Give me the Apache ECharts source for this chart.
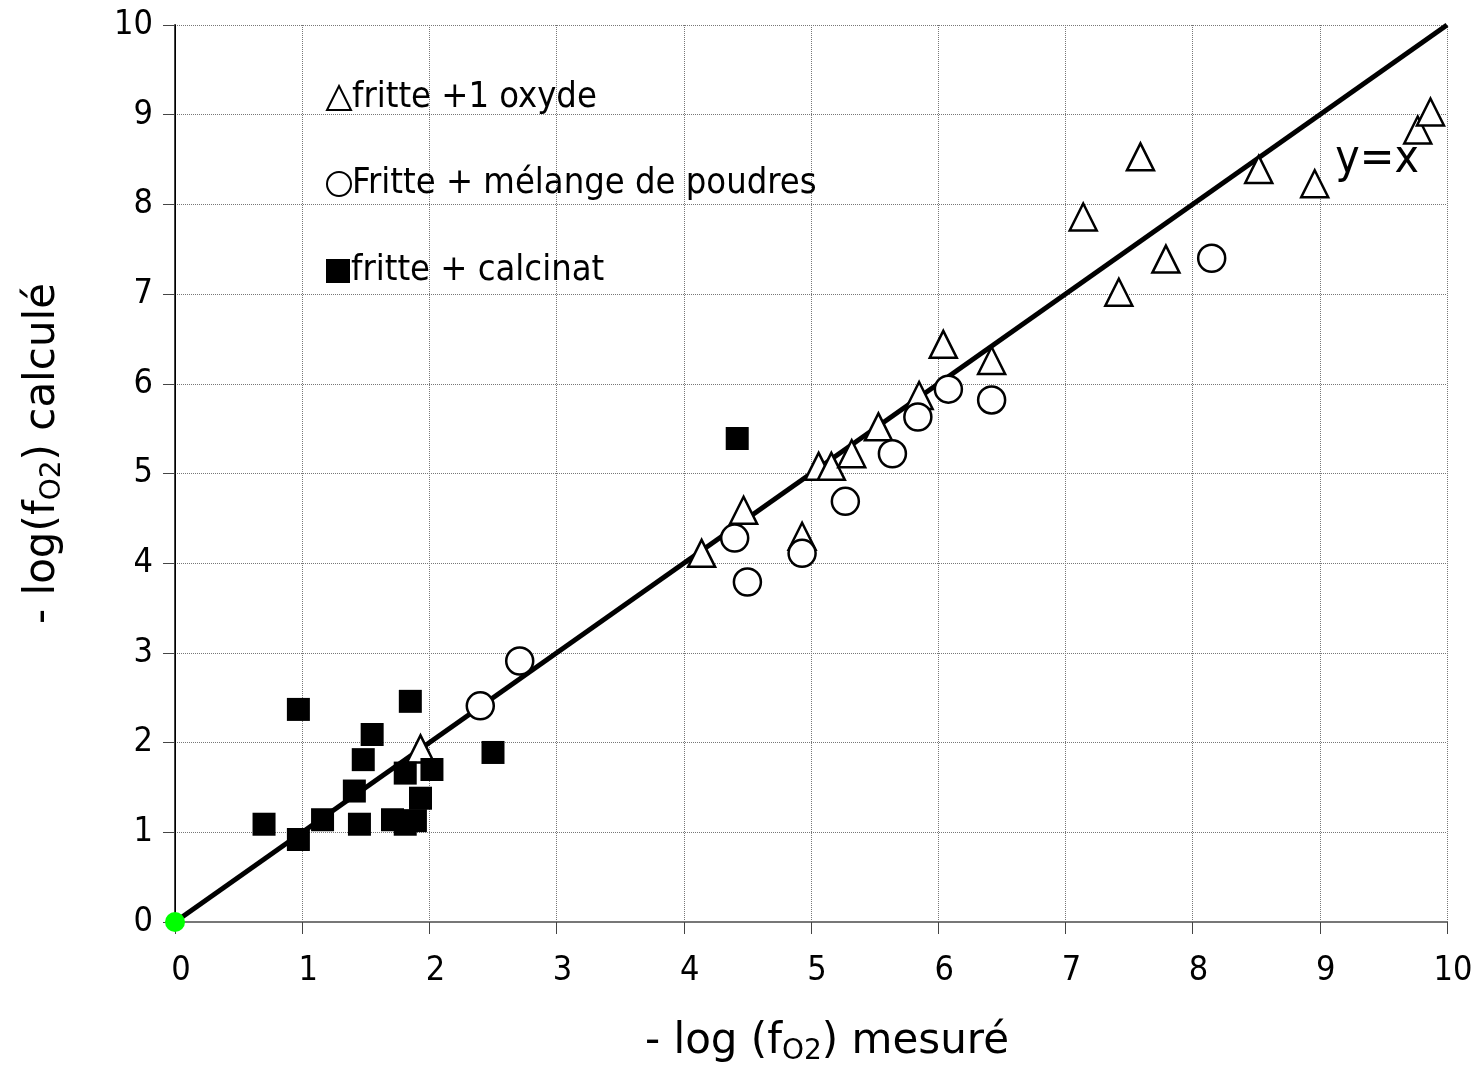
<!DOCTYPE html>
<html>
<head>
<meta charset="utf-8">
<script src="https://cdn.jsdelivr.net/npm/echarts@6/dist/echarts.min.js"></script>
<style>
html,body{margin:0;padding:0;background:#fff;}
#chart{width:1479px;height:1071px;}
</style>
</head>
<body>
<div id="chart"></div>
<script>
// ---- data ----
var seriesNames = ['fritte +1 oxyde', 'Fritte + mélange de poudres', 'fritte + calcinat'];

var oxydeX = [1.93, 4.14, 4.47, 4.93, 5.06, 5.16, 5.32, 5.53, 5.85, 6.04, 6.42, 7.14, 7.42, 7.59, 7.79, 8.52, 8.96, 9.77, 9.87];
var oxydeY = [1.93, 4.11, 4.59, 4.30, 5.08, 5.08, 5.22, 5.52, 5.87, 6.44, 6.26, 7.86, 7.02, 8.53, 7.39, 8.39, 8.23, 8.83, 9.03];

var poudreX = [2.40, 2.71, 4.40, 4.50, 4.93, 5.27, 5.64, 5.84, 6.08, 6.42, 8.15];
var poudreY = [2.41, 2.91, 4.28, 3.79, 4.11, 4.69, 5.22, 5.63, 5.94, 5.82, 7.40];

var calcinatX = [0.70, 0.97, 0.97, 1.16, 1.41, 1.45, 1.48, 1.55, 1.71, 1.81, 1.81, 1.89, 1.85, 1.93, 2.02, 2.50, 4.42];
var calcinatY = [1.09, 0.92, 2.37, 1.14, 1.46, 1.09, 1.81, 2.09, 1.14, 1.66, 1.09, 1.13, 2.46, 1.38, 1.70, 1.89, 5.39];

var identityX = [0, 10];
var identityY = [0, 10];
var originX = [0];
var originY = [0];
var lineLabelPos = [9.45, 8.5];

var axisMin = 0, axisMax = 10, axisInterval = 1;

function pairs(xs, ys) { return xs.map(function (x, i) { return [x, ys[i]]; }); }

var FONT = '"DejaVu Sans Condensed", "DejaVu Sans", sans-serif';
var FONT_W = '"DejaVu Sans", sans-serif';

var chart = echarts.init(document.getElementById('chart'), null, {renderer: 'canvas'});

function legendRow(name, top) {
  return {
    data: [name],
    left: 321,
    top: top,
    orient: 'horizontal',
    itemWidth: 24,
    itemHeight: 24,
    itemGap: 0,
    selectedMode: false,
    itemStyle: {opacity: 1},
    textStyle: {fontFamily: FONT, fontSize: 36, color: '#000', padding: [0, 0, 0, -4]}
  };
}

var option = {
  backgroundColor: '#fff',
  animation: false,
  grid: {left: 175, right: 32, top: 25, bottom: 146, containLabel: false},
  legend: [
    legendRow(seriesNames[0], 75),
    legendRow(seriesNames[1], 161),
    legendRow(seriesNames[2], 248)
  ],
  xAxis: [{
    type: 'value', min: axisMin, max: axisMax, interval: axisInterval,
    name: '- log (f{sub|O2}) mesuré',
    nameLocation: 'middle', nameGap: 96,
    nameTextStyle: {fontFamily: FONT_W, fontSize: 42, color: '#000', padding: [0, 0, 0, 32],
      rich: {sub: {fontFamily: FONT_W, fontSize: 28, color: '#000', padding: [20, 0, 0, 0]}}},
    axisLine: {show: true, onZero: false, lineStyle: {color: '#444', width: 2}},
    axisTick: {show: true, length: 12, lineStyle: {color: '#444', width: 1}},
    axisLabel: {fontFamily: FONT, fontSize: 34, color: '#000', margin: 32, padding: [0, 0, 0, 12]},
    splitLine: {show: true, lineStyle: {type: 'dotted', color: '#777', width: 1}}
  }, {
    type: 'value', min: axisMin, max: axisMax, position: 'top',
    axisLine: {show: true, lineStyle: {color: '#777', width: 2}},
    axisTick: {show: false}, axisLabel: {show: false}, splitLine: {show: false}
  }],
  yAxis: [{
    type: 'value', min: axisMin, max: axisMax, interval: axisInterval,
    name: '- log(f{sub|O2}) calculé',
    nameLocation: 'middle', nameGap: 108, nameRotate: 90,
    nameTextStyle: {fontFamily: FONT_W, fontSize: 42, color: '#000', padding: [0, 0, 0, 40],
      rich: {sub: {fontFamily: FONT_W, fontSize: 28, color: '#000', padding: [20, 0, 0, 0]}}},
    axisLine: {show: true, onZero: false, lineStyle: {color: '#444', width: 2}},
    axisTick: {show: true, length: 12, lineStyle: {color: '#444', width: 1}},
    axisLabel: {fontFamily: FONT, fontSize: 34, color: '#000', margin: 22},
    splitLine: {show: true, lineStyle: {type: 'dotted', color: '#777', width: 1}}
  }, {
    type: 'value', min: axisMin, max: axisMax, position: 'right',
    axisLine: {show: true, lineStyle: {color: '#000', width: 1}},
    axisTick: {show: false}, axisLabel: {show: false}, splitLine: {show: false}
  }],
  series: [
    {
      name: 'y=x', type: 'line', data: pairs(identityX, identityY),
      symbol: 'none', lineStyle: {color: '#000', width: 5}, z: 2, silent: true
    },
    {
      name: 'y=x label', type: 'scatter', data: [lineLabelPos],
      symbolSize: 0, z: 5, silent: true,
      itemStyle: {opacity: 1},
      label: {show: true, position: 'inside', formatter: 'y=x', fontFamily: FONT, fontSize: 46, color: '#000'}
    },
    {
      name: seriesNames[0], type: 'scatter', data: pairs(oxydeX, oxydeY),
      symbol: 'triangle', symbolSize: 27, z: 4,
      itemStyle: {color: '#fff', borderColor: '#000', borderWidth: 2.5, opacity: 1}
    },
    {
      name: seriesNames[1], type: 'scatter', data: pairs(poudreX, poudreY),
      symbol: 'circle', symbolSize: 27, z: 4,
      itemStyle: {color: '#fff', borderColor: '#000', borderWidth: 2.5, opacity: 1}
    },
    {
      name: seriesNames[2], type: 'scatter', data: pairs(calcinatX, calcinatY),
      symbol: 'rect', symbolSize: 23, z: 4,
      itemStyle: {color: '#000', borderColor: '#000', borderWidth: 0, opacity: 1}
    },
    {
      name: 'origin', type: 'scatter', data: pairs(originX, originY),
      symbol: 'circle', symbolSize: 20, z: 6,
      itemStyle: {color: '#00ff00', opacity: 1}
    }
  ]
};
chart.setOption(option);
</script>
</body>
</html>
